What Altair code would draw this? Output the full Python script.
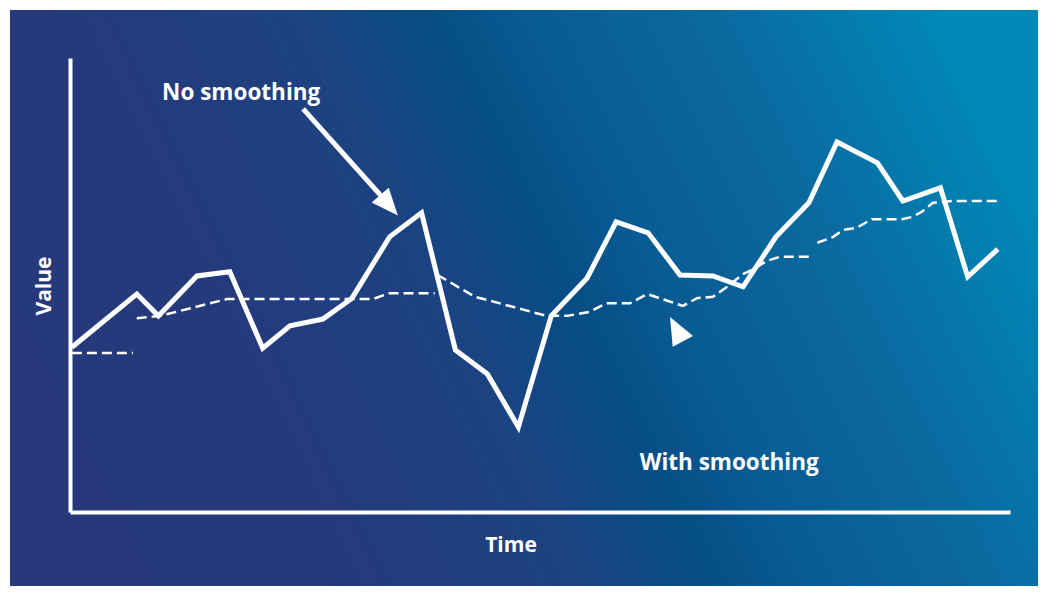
import altair as alt
import pandas as pd

# ---- data (time 0-100, value 0-100) ----
raw_t = [0.2, 7.1, 9.4, 13.5, 17.0, 20.5, 23.4, 26.9, 30.0, 34.0, 37.4, 41.0, 44.4, 47.7,
         51.2, 55.0, 58.1, 61.5, 64.9, 68.4, 71.6, 75.1, 78.6, 81.6, 85.9, 88.6, 92.6, 95.5, 98.7]
raw_v = [36.3, 48.0, 43.2, 52.0, 52.9, 36.1, 41.0, 42.5, 47.1, 60.6, 65.9, 35.7, 30.4, 18.7,
         43.2, 51.5, 63.9, 61.5, 52.2, 52.0, 49.6, 60.6, 68.1, 81.5, 76.9, 68.5, 71.4, 51.8, 57.9]

smooth_t = [0.2, 6.7,
            7.1, 9.6, 16.7, 32.2, 34.0, 38.8,
            39.1, 43.1, 50.7, 52.9, 55.3, 57.1, 59.6, 61.4, 65.2, 66.7, 68.4, 69.9, 71.6, 72.9,
            74.1, 75.5, 78.9,
            79.5, 81.2, 82.2, 83.7, 85.3, 88.5, 89.6, 90.6, 91.8, 93.9, 98.9]
smooth_v = [35.0, 35.0,
            42.7, 43.2, 46.9, 46.9, 48.2, 48.2,
            52.2, 47.4, 43.2, 43.2, 44.1, 46.0, 46.0, 48.0, 45.4, 47.1, 47.4, 49.6, 52.4, 53.7,
            55.3, 56.2, 56.2,
            59.3, 60.6, 62.1, 62.6, 64.5, 64.5, 65.0, 66.1, 68.1, 68.5, 68.5]
smooth_seg = [1, 1,
              2, 2, 2, 2, 2, 2,
              3, 3, 3, 3, 3, 3, 3, 3, 3, 3, 3, 3, 3, 3, 3, 3, 3,
              4, 4, 4, 4, 4, 4, 4, 4, 4, 4, 4]

label_text = ["No smoothing", "With smoothing"]
label_t = [9.8, 60.6]
label_v = [90.7, 9.3]

shaft_t = [24.8, 33.5]
shaft_v = [88.8, 68.7]
head1_t = [33.0]
head1_v = [69.8]
head2_t = [65.2]
head2_v = [37.6]

raw_df = pd.DataFrame({"t": raw_t, "v": raw_v})
smooth_df = pd.DataFrame({"t": smooth_t, "v": smooth_v, "seg": smooth_seg})
label_df = pd.DataFrame({"t": label_t, "v": label_v, "text": label_text})
shaft_df = pd.DataFrame({"t": shaft_t, "v": shaft_v})
head1_df = pd.DataFrame({"t": head1_t, "v": head1_v})
head2_df = pd.DataFrame({"t": head2_t, "v": head2_v})
one = pd.DataFrame({"a": [0]})

W, H = 940, 454
xs = alt.Scale(domain=[0, 100], nice=False, zero=False)
ys = alt.Scale(domain=[0, 100], nice=False, zero=False)
ax = alt.Axis(title=None, ticks=False, labels=False, grid=False, domainColor="white",
              domainWidth=4, zindex=1)

X = alt.X("t:Q", scale=xs, axis=ax)
Y = alt.Y("v:Q", scale=ys, axis=ax)

grad = alt.LinearGradient(
    gradient="linear",
    x1=0, y1=0.64, x2=1, y2=0.36,
    stops=[
        alt.GradientStop(color="#27397b", offset=0),
        alt.GradientStop(color="#25397b", offset=0.2),
        alt.GradientStop(color="#1d4281", offset=0.42),
        alt.GradientStop(color="#064d85", offset=0.54),
        alt.GradientStop(color="#085b92", offset=0.63),
        alt.GradientStop(color="#0a6aa0", offset=0.8),
        alt.GradientStop(color="#0088b8", offset=1),
    ],
)

bg = alt.Chart(one).mark_rect(fill=grad, strokeWidth=0).encode(
    x=alt.value(-60), x2=alt.value(970), y=alt.value(-48), y2=alt.value(540)
)

smooth = alt.Chart(smooth_df).mark_line(
    color="white", strokeWidth=2.5, strokeDash=[10, 5]
).encode(x=X, y=Y, detail="seg:N", order="t:Q")

raw = alt.Chart(raw_df).mark_line(
    color="white", strokeWidth=5, strokeJoin="miter"
).encode(x=X, y=Y, order="t:Q")

labels = alt.Chart(label_df).mark_text(
    font="Open Sans", fontWeight="bold", fontSize=22.5, color="white",
    align="left", baseline="alphabetic"
).encode(x=X, y=Y, text="text:N")

shaft = alt.Chart(shaft_df).mark_line(color="white", strokeWidth=5).encode(x=X, y=Y)

arrow_path = "M0,-1L0.42,0L-0.42,0Z"
head1 = alt.Chart(head1_df).mark_point(
    shape=arrow_path, size=2900, filled=True, color="white", opacity=1, angle=139
).encode(x=X, y=Y)
head2 = alt.Chart(head2_df).mark_point(
    shape=arrow_path, size=3000, filled=True, color="white", opacity=1, angle=332
).encode(x=X, y=Y)

time_title = alt.Chart(one).mark_text(
    text="Time", font="Open Sans", fontWeight="bold", fontSize=21, color="white",
    align="center", baseline="alphabetic"
).encode(x=alt.value(441), y=alt.value(494))

value_title = alt.Chart(one).mark_text(
    text="Value", font="Open Sans", fontWeight="bold", fontSize=21, color="white",
    align="center", baseline="middle", angle=270
).encode(x=alt.value(-25), y=alt.value(228))

chart = alt.layer(
    bg, smooth, raw, shaft, head1, head2, labels, time_title, value_title
).properties(
    width=W, height=H,
    autosize=alt.AutoSizeParams(type="none"),
    padding={"left": 62, "top": 50, "right": 28, "bottom": 74},
    background="white",
).configure_view(stroke=None)

chart.save("out.html", embed_options={"renderer": "svg", "actions": False})
